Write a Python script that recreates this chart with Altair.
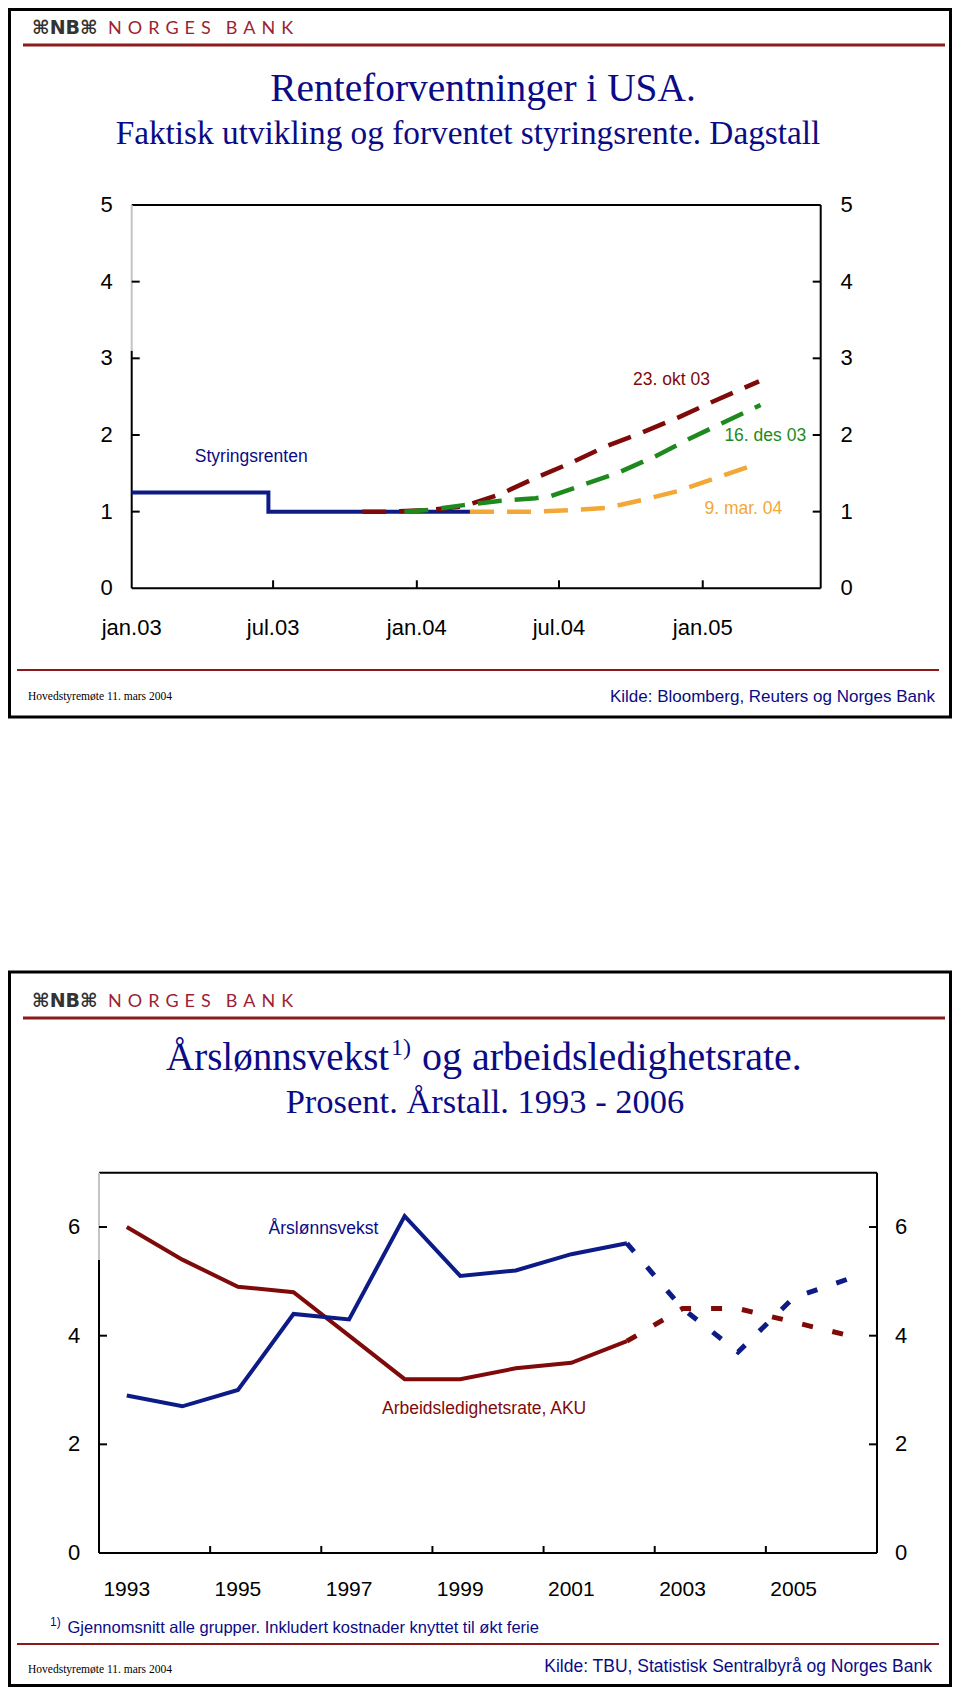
import altair as alt
import pandas as pd

# ---------------- data: top chart (US policy rate expectations) ----------------
styr_dates = ["2003-01-01", "2003-06-25", "2004-03-09"]
styr_values = [1.25, 1.00, 1.00]

okt_dates = ["2003-10-23", "2003-12-01", "2004-01-15", "2004-03-01", "2004-04-15", "2004-06-01",
             "2004-07-15", "2004-09-01", "2004-10-15", "2004-12-01", "2005-01-15", "2005-03-14"]
okt_values = [1.00, 1.00, 1.02, 1.07, 1.22, 1.44, 1.63, 1.86, 2.03, 2.23, 2.44, 2.70]

des_dates = ["2003-12-16", "2004-01-15", "2004-03-01", "2004-04-15", "2004-06-01", "2004-06-20",
             "2004-08-01", "2004-09-15", "2004-11-01", "2004-12-15", "2005-01-31", "2005-03-16"]
des_values = [1.00, 1.02, 1.085, 1.14, 1.175, 1.20, 1.35, 1.51, 1.72, 1.95, 2.18, 2.39]

mar_dates = ["2004-03-09", "2004-06-01", "2004-07-15", "2004-09-01", "2004-10-15", "2004-12-01",
             "2005-01-15", "2005-02-27"]
mar_values = [1.00, 1.00, 1.02, 1.05, 1.15, 1.27, 1.43, 1.58]

top_domain = ["2003-01-01", "2005-06-01"]
top_tick_dates = ["2003-07-01", "2004-01-01", "2004-07-01", "2005-01-01"]
top_label_dates = ["2003-01-01", "2003-07-01", "2004-01-01", "2004-07-01", "2005-01-01"]
top_label_texts = ["jan.03", "jul.03", "jan.04", "jul.04", "jan.05"]
top_y_labels = [0, 1, 2, 3, 4, 5]
top_y_ticks = [1, 2, 3, 4]

top_annot_text = ["Styringsrenten", "23. okt 03", "16. des 03", "9. mar. 04"]
top_annot_date = ["2003-06-03", "2004-11-22", "2005-03-22", "2005-02-22"]
top_annot_value = [1.71, 2.72, 1.99, 1.03]

# ---------------- data: bottom chart (wages / unemployment) ----------------
years = list(range(1993, 2007))
lonnsvekst = [2.9, 2.7, 3.0, 4.4, 4.3, 6.2, 5.1, 5.2, 5.5, 5.7, 4.5, 3.7, 4.7, 5.05]
ledighet = [6.0, 5.4, 4.9, 4.8, 4.0, 3.2, 3.2, 3.4, 3.5, 3.9, 4.5, 4.5, 4.25, 4.0]
last_actual = 2002
bot_domain = [1992.5, 2006.5]
bot_x_labels = [1993, 1995, 1997, 1999, 2001, 2003, 2005]
bot_x_ticks = [1994.5, 1996.5, 1998.5, 2000.5, 2002.5, 2004.5]
bot_y_labels = [0, 2, 4, 6]
bot_y_ticks = [2, 4, 6]
bot_annot_text = ["Årslønnsvekst", "Arbeidsledighetsrate, AKU"]
bot_annot_year = [1996.54, 1999.43]
bot_annot_value = [5.96, 2.65]

# ---------------- styling ----------------
NAVY = "#0B0B85"
BLUE = "#0D1B86"
DRED = "#7F0A0A"
GREEN = "#1E8A1E"
ORANGE = "#F2A737"
RULE = "#8B1A1A"
LOGO_RED = "#9C1F35"
SERIF = "Liberation Serif, Times New Roman, serif"
SANS = "Liberation Sans, Arial, sans-serif"

W, H = 944, 1679
DUMMY = pd.DataFrame({"a": [0]})

TX = alt.Scale(domain=[pd.Timestamp(top_domain[0]).isoformat(), pd.Timestamp(top_domain[1]).isoformat()],
               range=[123.7, 812.7], nice=False)
TY = alt.Scale(domain=[0, 5], range=[580.3, 197], nice=False, zero=False)
BX = alt.Scale(domain=bot_domain, range=[91, 869], nice=False, zero=False)
BY = alt.Scale(domain=[0, 7], range=[1545, 1164.7], nice=False, zero=False)


def tx(f):
    return alt.X(f, type="temporal", scale=TX, axis=None)


def ty(f):
    return alt.Y(f, type="quantitative", scale=TY, axis=None)


def bx(f):
    return alt.X(f, type="quantitative", scale=BX, axis=None)


def by(f):
    return alt.Y(f, type="quantitative", scale=BY, axis=None)


def ts(lst):
    return pd.to_datetime(pd.Series(lst))


# ---------------- top panel ----------------
t_left, t_right = top_domain
frame_df = pd.DataFrame({"x1": ts([t_left]), "x2": ts([t_right]), "y0": [0], "y5": [5], "yg": [3.1]})
frame_t_top = alt.Chart(frame_df).mark_rule(color="black", strokeWidth=2).encode(x=tx("x1"), x2="x2", y=ty("y5"))
frame_t_bot = alt.Chart(frame_df).mark_rule(color="black", strokeWidth=2).encode(x=tx("x1"), x2="x2", y=ty("y0"))
frame_t_right = alt.Chart(frame_df).mark_rule(color="black", strokeWidth=2).encode(x=tx("x2"), y=ty("y0"), y2="y5")
frame_t_left = alt.Chart(frame_df).mark_rule(color="black", strokeWidth=2).encode(x=tx("x1"), y=ty("y0"), y2="yg")
frame_t_left_g = alt.Chart(frame_df).mark_rule(color="#C4C4C4", strokeWidth=2).encode(x=tx("x1"), y=ty("yg"), y2="y5")

ytick_df = pd.DataFrame({"v": top_y_ticks, "l": ts([t_left] * len(top_y_ticks)), "r": ts([t_right] * len(top_y_ticks))})
ticks_l = alt.Chart(ytick_df).mark_rule(color="black", strokeWidth=2, x2Offset=8).encode(x=tx("l"), x2="l", y=ty("v"))
ticks_r = alt.Chart(ytick_df).mark_rule(color="black", strokeWidth=2, x2Offset=-8).encode(x=tx("r"), x2="r", y=ty("v"))

xtick_df = pd.DataFrame({"d": ts(top_tick_dates), "z": [0] * len(top_tick_dates)})
ticks_x = alt.Chart(xtick_df).mark_rule(color="black", strokeWidth=2, y2Offset=-8).encode(x=tx("d"), y=ty("z"), y2="z")

ylab_df = pd.DataFrame({"v": top_y_labels, "l": ts([t_left] * 6), "r": ts([t_right] * 6)})
ylab_l = alt.Chart(ylab_df).mark_text(font=SANS, fontSize=22, dx=-25, align="center", baseline="middle",
                                      color="black").encode(x=tx("l"), y=ty("v"), text="v:Q")
ylab_r = alt.Chart(ylab_df).mark_text(font=SANS, fontSize=22, dx=26, align="center", baseline="middle",
                                      color="black").encode(x=tx("r"), y=ty("v"), text="v:Q")
xlab_df = pd.DataFrame({"d": ts(top_label_dates), "t": top_label_texts, "z": [0] * 5})
xlab = alt.Chart(xlab_df).mark_text(font=SANS, fontSize=22, dy=40, align="center", baseline="middle",
                                    color="black").encode(x=tx("d"), y=ty("z"), text="t:N")

styr = alt.Chart(pd.DataFrame({"d": ts(styr_dates), "v": styr_values})).mark_line(
    interpolate="step-after", color=BLUE, strokeWidth=4).encode(x=tx("d"), y=ty("v"))


def fc(dates, vals, color):
    return alt.Chart(pd.DataFrame({"d": ts(dates), "v": vals})).mark_line(
        color=color, strokeWidth=4.5, strokeDash=[24, 13], strokeCap="butt").encode(x=tx("d"), y=ty("v"))


fc_okt = fc(okt_dates, okt_values, DRED)
fc_des = fc(des_dates, des_values, GREEN)
fc_mar = fc(mar_dates, mar_values, ORANGE)

ann_colors = [NAVY, DRED, GREEN, ORANGE]
top_ann = []
for i in range(4):
    top_ann.append(alt.Chart(pd.DataFrame({"d": ts([top_annot_date[i]]), "v": [top_annot_value[i]],
                                           "t": [top_annot_text[i]]})).mark_text(
        font=SANS, fontSize=17.5, align="center", baseline="middle", color=ann_colors[i]).encode(
        x=tx("d"), y=ty("v"), text="t:N"))

top_panel = alt.layer(frame_t_top, frame_t_bot, frame_t_right, frame_t_left, frame_t_left_g,
                      ticks_l, ticks_r, ticks_x, ylab_l, ylab_r, xlab,
                      styr, fc_okt, fc_des, fc_mar, *top_ann)

# ---------------- bottom panel ----------------
b0, b1 = bot_domain
bframe_df = pd.DataFrame({"x1": [b0], "x2": [b1], "y0": [0], "y7": [7], "yg": [5.4]})
frame_b_top = alt.Chart(bframe_df).mark_rule(color="black", strokeWidth=2).encode(x=bx("x1"), x2="x2", y=by("y7"))
frame_b_bot = alt.Chart(bframe_df).mark_rule(color="black", strokeWidth=2).encode(x=bx("x1"), x2="x2", y=by("y0"))
frame_b_right = alt.Chart(bframe_df).mark_rule(color="black", strokeWidth=2).encode(x=bx("x2"), y=by("y0"), y2="y7")
frame_b_left = alt.Chart(bframe_df).mark_rule(color="black", strokeWidth=2).encode(x=bx("x1"), y=by("y0"), y2="yg")
frame_b_left_g = alt.Chart(bframe_df).mark_rule(color="#C4C4C4", strokeWidth=2).encode(x=bx("x1"), y=by("yg"), y2="y7")

bt_df = pd.DataFrame({"v": bot_y_ticks, "l": [b0] * 3, "r": [b1] * 3})
bticks_l = alt.Chart(bt_df).mark_rule(color="black", strokeWidth=2, x2Offset=8).encode(x=bx("l"), x2="l", y=by("v"))
bticks_r = alt.Chart(bt_df).mark_rule(color="black", strokeWidth=2, x2Offset=-8).encode(x=bx("r"), x2="r", y=by("v"))
bx_df = pd.DataFrame({"x": bot_x_ticks, "z": [0] * len(bot_x_ticks)})
bticks_x = alt.Chart(bx_df).mark_rule(color="black", strokeWidth=2, y2Offset=-7).encode(x=bx("x"), y=by("z"), y2="z")
byl_df = pd.DataFrame({"v": bot_y_labels, "l": [b0] * 4, "r": [b1] * 4})
bylab_l = alt.Chart(byl_df).mark_text(font=SANS, fontSize=22, dx=-25, align="center", baseline="middle",
                                      color="black").encode(x=bx("l"), y=by("v"), text="v:Q")
bylab_r = alt.Chart(byl_df).mark_text(font=SANS, fontSize=22, dx=24, align="center", baseline="middle",
                                      color="black").encode(x=bx("r"), y=by("v"), text="v:Q")
bxl_df = pd.DataFrame({"x": bot_x_labels, "z": [0] * len(bot_x_labels)})
bxlab = alt.Chart(bxl_df).mark_text(font=SANS, fontSize=21, dy=37, align="center", baseline="middle",
                                    color="black").encode(x=bx("x"), y=by("z"), text="x:Q")

bdf = pd.DataFrame({"year": years, "lonn": lonnsvekst, "led": ledighet})
bdf_act = bdf[bdf["year"] <= last_actual]
bdf_fc = bdf[bdf["year"] >= last_actual]


def bline(df, field, color, dashed):
    if dashed:
        m = alt.Chart(df).mark_line(color=color, strokeWidth=5, strokeDash=[11, 20], strokeCap="butt")
    else:
        m = alt.Chart(df).mark_line(color=color, strokeWidth=4)
    return m.encode(x=bx("year"), y=by(field))


blines = [bline(bdf_act, "led", DRED, False), bline(bdf_act, "lonn", BLUE, False),
          bline(bdf_fc, "led", DRED, True), bline(bdf_fc, "lonn", BLUE, True)]
bann_colors = [NAVY, DRED]
bot_ann = []
for i in range(2):
    bot_ann.append(alt.Chart(pd.DataFrame({"x": [bot_annot_year[i]], "v": [bot_annot_value[i]],
                                           "t": [bot_annot_text[i]]})).mark_text(
        font=SANS, fontSize=17.5, align="center", baseline="middle", color=bann_colors[i]).encode(
        x=bx("x"), y=by("v"), text="t:N"))

bot_panel = alt.layer(frame_b_top, frame_b_bot, frame_b_right, frame_b_left, frame_b_left_g,
                      bticks_l, bticks_r, bticks_x, bylab_l, bylab_r, bxlab, *blines, *bot_ann)


# ---------------- slide decorations ----------------
def txt(s, x, y, size, color, font, align="left", baseline="middle", weight="normal"):
    return alt.Chart(DUMMY).mark_text(text=s, align=align, baseline=baseline, fontSize=size, font=font,
                                      color=color, fontWeight=weight).encode(x=alt.value(x), y=alt.value(y))


def hrule(x1, x2, y, color, w):
    return alt.Chart(DUMMY).mark_rule(color=color, strokeWidth=w).encode(
        x=alt.value(x1), x2=alt.value(x2), y=alt.value(y))


def box(x1, x2, y1, y2):
    return alt.Chart(DUMMY).mark_rect(filled=False, stroke="black", strokeWidth=3).encode(
        x=alt.value(x1), x2=alt.value(x2), y=alt.value(y1), y2=alt.value(y2))


SP = "\u2004"


def slide_head(off):
    return [
        txt("\u2318NB\u2318", 24, 20 + off, 19, "#333333", "DejaVu Sans", weight="bold"),
        txt(SP.join("NORGES") + "\u2002" + SP + SP.join("BANK"), 100, 20.5 + off, 18,
            LOGO_RED, "Lato, Open Sans, sans-serif"),
        hrule(15, 937, 37 + off, RULE, 3),
    ]


OFF = 973
deco = []
deco += [box(1.5, 942.5, 1.5, 709), box(1.5, 942.5, 964, 1677.5)]
deco += slide_head(0) + slide_head(OFF)
deco += [
    txt("Renteforventninger i USA.", 475, 92.5, 39.4, NAVY, SERIF, align="center", baseline="alphabetic"),
    txt("Faktisk utvikling og forventet styringsrente. Dagstall", 460, 136, 33.3, NAVY, SERIF,
        align="center", baseline="alphabetic"),
    hrule(9, 931, 662, RULE, 2),
    txt("Hovedstyremøte 11. mars 2004", 20, 689, 11.5, "black", SERIF),
    txt("Kilde: Bloomberg, Reuters og Norges Bank", 927, 689, 17, NAVY, SANS, align="right"),
    # bottom slide
    txt("Årslønnsvekst", 158, 1062, 39, NAVY, SERIF, baseline="alphabetic"),
    txt("1)", 383, 1047, 24, NAVY, SERIF, baseline="alphabetic"),
    txt("og arbeidsledighetsrate.", 414, 1062, 40, NAVY, SERIF, baseline="alphabetic"),
    txt("Prosent. Årstall. 1993 - 2006", 477, 1105, 34.5, NAVY, SERIF, align="center", baseline="alphabetic"),
    txt("1)", 42, 1613.5, 12, NAVY, SANS),
    txt("Gjennomsnitt alle grupper. Inkludert kostnader knyttet til økt ferie", 59.5, 1620, 16.5, NAVY, SANS),
    hrule(9, 931, 1636, RULE, 2),
    txt("Hovedstyremøte 11. mars 2004", 20, 1662, 11.5, "black", SERIF),
    txt("Kilde: TBU, Statistisk Sentralbyrå og Norges Bank", 924, 1659, 17.5, NAVY, SANS, align="right"),
]

chart = alt.layer(*deco, top_panel, bot_panel).resolve_scale(
    x="independent", y="independent").properties(
    width=W, height=H, autosize=alt.AutoSizeParams(type="none"), padding=0,
    background="white").configure_view(strokeWidth=0)

chart.save("out.html", embed_options={"renderer": "svg", "actions": False})
